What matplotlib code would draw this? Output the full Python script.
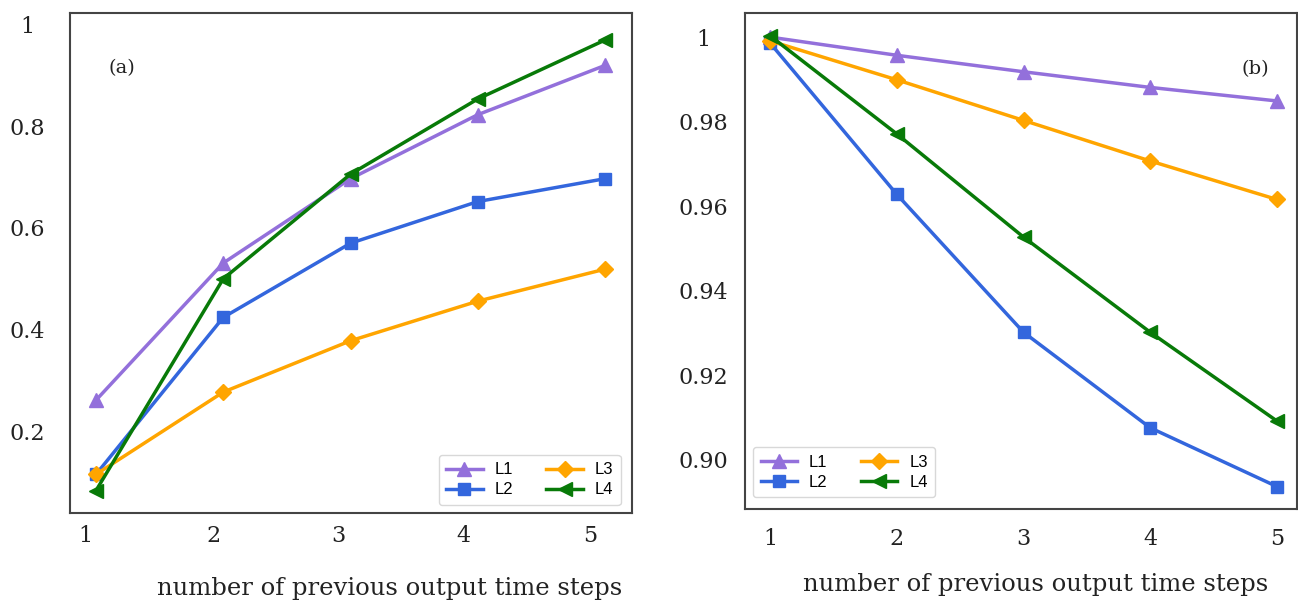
import matplotlib
matplotlib.use("Agg")
import matplotlib.pyplot as plt

steps = [1, 2, 3, 4, 5]
series_names = ["L1", "L2", "L3", "L4"]

# panel (a)
a_L1 = [0.261, 0.531, 0.697, 0.823, 0.920]
a_L2 = [0.115, 0.424, 0.570, 0.652, 0.697]
a_L3 = [0.115, 0.277, 0.378, 0.456, 0.519]
a_L4 = [0.083, 0.500, 0.706, 0.854, 0.970]

# panel (b)
b_L1 = [1.000, 0.9957, 0.9918, 0.9881, 0.9849]
b_L2 = [0.9986, 0.9628, 0.9302, 0.9076, 0.8937]
b_L3 = [0.9991, 0.9899, 0.9803, 0.9707, 0.9616]
b_L4 = [1.0003, 0.9771, 0.9527, 0.9302, 0.9092]

a_yticks = [0.2, 0.4, 0.6, 0.8, 1.0]
a_yticklabels = ["0.2", "0.4", "0.6", "0.8", "1"]
b_yticks = [0.90, 0.92, 0.94, 0.96, 0.98, 1.0]
b_yticklabels = ["0.90", "0.92", "0.94", "0.96", "0.98", "1"]
xticklabels = ["1", "2", "3", "4", "5"]
xlabel = "number of previous output time steps"

colors = ["#9370DB", "#3366DD", "#FFA500", "#087A08"]
markers = ["^", "s", "D", "<"]
msizes = [9.5, 8.5, 8.5, 9.5]

fig = plt.figure(figsize=(12.98, 6.05), dpi=100)
W, H = 1298.0, 605.0
axa = fig.add_axes([70 / W, 1 - 513 / H, (632 - 70) / W, (513 - 13) / H])
axb = fig.add_axes([745 / W, 1 - 509 / H, (1297 - 745) / W, (509 - 13) / H])

serif = ["DejaVu Serif"]
legfont = {"family": ["Liberation Sans Narrow", "Liberation Sans", "DejaVu Sans"], "size": 12}

def style(ax):
    for s in ax.spines.values():
        s.set_color("#444444")
        s.set_linewidth(1.5)
    ax.tick_params(length=0)
    for lab in ax.get_xticklabels() + ax.get_yticklabels():
        lab.set_fontfamily(serif)
        lab.set_fontsize(16)
        lab.set_color("#222222")

for ax, data in ((axa, [a_L1, a_L2, a_L3, a_L4]), (axb, [b_L1, b_L2, b_L3, b_L4])):
    for name, vals, c, m, ms in zip(series_names, data, colors, markers, msizes):
        ax.plot(steps, vals, color=c, marker=m, markersize=ms, linewidth=2.5, label=name)

# panel (a)
axa.set_xlim(0.796, 5.21)
axa.set_ylim(0.039, 1.023)
axa.set_xticks([0.915, 1.92, 2.905, 3.89, 4.88])
axa.set_xticklabels(xticklabels)
axa.set_yticks(a_yticks)
axa.set_yticklabels(a_yticklabels, ha="center")
axa.tick_params(axis="y", pad=30.5)
axa.tick_params(axis="x", pad=9)
style(axa)
axa.set_xlabel(xlabel, fontsize=17.5, family=serif, color="#222222")
axa.xaxis.set_label_coords(0.568, -0.152)
axa.xaxis.label.set_verticalalignment("center")
axa.text(0.092, 0.89, "(a)", transform=axa.transAxes, fontsize=14, family=serif,
         ha="center", va="center", color="#222222")
leg = axa.legend(loc="lower right", ncol=2, prop=legfont, handlelength=2.2,
                 handletextpad=0.7, columnspacing=2.0, borderpad=0.45,
                 labelspacing=0.3, framealpha=1, borderaxespad=0,
                 bbox_to_anchor=(0.98, 0.016))
leg.get_frame().set_edgecolor("#d8d8d8")

# panel (b)
axb.set_xlim(0.802, 5.158)
axb.set_ylim(0.8884, 1.0057)
axb.set_xticks(steps)
axb.set_xticklabels(xticklabels)
axb.set_yticks(b_yticks)
axb.set_yticklabels(b_yticklabels, ha="center")
axb.tick_params(axis="y", pad=30)
axb.tick_params(axis="x", pad=14)
style(axb)
axb.set_xlabel(xlabel, fontsize=17.5, family=serif, color="#222222")
axb.xaxis.set_label_coords(0.527, -0.153)
axb.xaxis.label.set_verticalalignment("center")
axb.text((1255 - 745) / 552, (509 - 69) / 496, "(b)", transform=axb.transAxes,
         fontsize=14, family=serif, ha="center", va="center", color="#222222")
leg = axb.legend(loc="lower left", ncol=2, prop=legfont, handlelength=2.2,
                 handletextpad=0.7, columnspacing=2.0, borderpad=0.45,
                 labelspacing=0.3, framealpha=1, borderaxespad=0,
                 bbox_to_anchor=(0.0145, 0.024))
leg.get_frame().set_edgecolor("#d8d8d8")

fig.savefig("out.png", dpi=100)
